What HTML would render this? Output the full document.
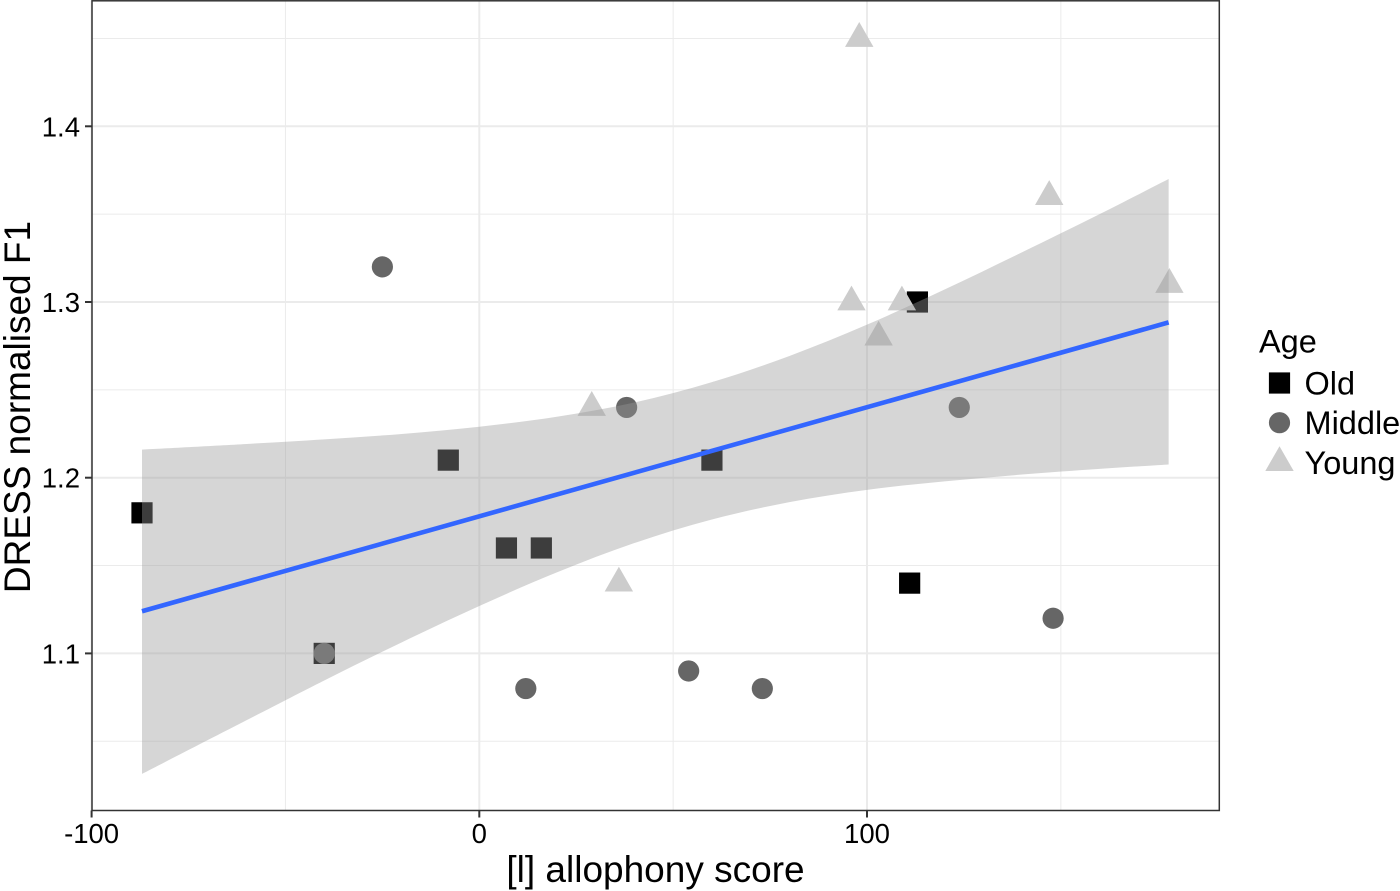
<!DOCTYPE html>
<html lang="en">
<head>
<meta charset="utf-8">
<title>DRESS normalised F1 by [l] allophony score</title>
<style>
html,body{margin:0;padding:0;background:#fff;width:1400px;height:891px;overflow:hidden}
svg{display:block;font-family:"Liberation Sans",Arial,sans-serif}
</style>
</head>
<body>
<svg id="chart" xmlns="http://www.w3.org/2000/svg" width="1400" height="891" viewBox="0 0 1400 891">
  <text x="655.5" y="882" font-size="37" text-anchor="middle" fill="#000">[l] allophony score</text>
  <text transform="translate(30,407) rotate(-90)" font-size="37" text-anchor="middle" fill="#000">DRESS normalised F1</text>
  <text x="1259" y="352.5" font-size="32.5" fill="#000">Age</text>
</svg>
<script>
const xMajorTicks = [-100, 0, 100];
const xMinorTicks = [-50, 50, 150];
const yMajorTicks = [1.1, 1.2, 1.3, 1.4];
const yMinorTicks = [1.05, 1.15, 1.25, 1.35, 1.45];
const xTickLabels = ['-100', '0', '100'];
const yTickLabels = ['1.1', '1.2', '1.3', '1.4'];

const oldX = [-87, -40, -8, 7, 16, 60, 111, 113];
const oldY = [1.18, 1.1, 1.21, 1.16, 1.16, 1.21, 1.14, 1.3];
const middleX = [-25, -40, 12, 38, 54, 73, 123.8, 148];
const middleY = [1.32, 1.1, 1.08, 1.24, 1.09, 1.08, 1.24, 1.12];
const youngX = [29, 36, 96, 98, 103, 109, 147, 178];
const youngY = [1.24, 1.14, 1.3, 1.45, 1.28, 1.3, 1.36, 1.31];

const fitX = [-87, 177.8];
const fitY = [1.124, 1.2884];
const ribbonX = [-87, -60, -40, -20, 0, 20, 40, 60, 80, 100, 120, 140, 160, 177.8];
const ribbonUpperY = [1.216, 1.2192, 1.2218, 1.2249, 1.229, 1.2347, 1.2428, 1.2544, 1.2693, 1.2871, 1.3071, 1.3283, 1.35, 1.37];
const ribbonLowerY = [1.0314, 1.062, 1.0846, 1.1063, 1.127, 1.1461, 1.1628, 1.1762, 1.1861, 1.1931, 1.1979, 1.2018, 1.205, 1.2075];

const legendLabels = ['Old', 'Middle', 'Young'];

const NS = 'http://www.w3.org/2000/svg';
const svg = document.getElementById('chart');
const PANEL = { left: 92, right: 1219.3, top: 0.8, bottom: 810.5 };
const xScale = function (v) { return 479.3 + v * 3.877; };
const yScale = function (v) { return 477.7 - (v - 1.2) * 1757; };

function make(tag, parent, attrs, text) {
  const el = document.createElementNS(NS, tag);
  Object.keys(attrs).forEach(function (k) { el.setAttribute(k, attrs[k]); });
  if (text !== undefined) el.textContent = text;
  parent.appendChild(el);
  return el;
}
function group(parent) {
  return make('g', parent, {});
}

const gridGroup = group(svg);



yMinorTicks.forEach(function (v) {
  const el = make('line', gridGroup, { x1: PANEL.left, x2: PANEL.right, y1: yScale(v), y2: yScale(v), stroke: '#ebebeb', 'stroke-width': 1 });
  
  
});
xMinorTicks.forEach(function (v) {
  const el = make('line', gridGroup, { x1: xScale(v), x2: xScale(v), y1: PANEL.top, y2: PANEL.bottom, stroke: '#ebebeb', 'stroke-width': 1 });
  
  
});
yMajorTicks.forEach(function (v) {
  const el = make('line', gridGroup, { x1: PANEL.left, x2: PANEL.right, y1: yScale(v), y2: yScale(v), stroke: '#ebebeb', 'stroke-width': 2 });
  
  
});
xMajorTicks.forEach(function (v) {
  const el = make('line', gridGroup, { x1: xScale(v), x2: xScale(v), y1: PANEL.top, y2: PANEL.bottom, stroke: '#ebebeb', 'stroke-width': 2 });
  
  
});

function drawSquare(parent, cx, cy) {
  return make('rect', parent, { x: cx - 10.6, y: cy - 10.6, width: 21.2, height: 21.2, fill: '#000' });
}
function drawCircle(parent, cx, cy) {
  return make('circle', parent, { cx: cx, cy: cy, r: 10.6, fill: '#666' });
}
function drawTriangle(parent, cx, cy) {
  const pts = [[cx, cy - 16.4], [cx + 14.2, cy + 8.4], [cx - 14.2, cy + 8.4]];
  return make('polygon', parent, { points: pts.map(function (p) { return p.join(','); }).join(' '), fill: '#ccc' });
}

const pointsGroup = group(svg);



oldX.forEach(function (v, i) {
  const el = drawSquare(pointsGroup, xScale(v), yScale(oldY[i]));
  
  
});
middleX.forEach(function (v, i) {
  const el = drawCircle(pointsGroup, xScale(v), yScale(middleY[i]));
  
  
});
youngX.forEach(function (v, i) {
  const el = drawTriangle(pointsGroup, xScale(v), yScale(youngY[i]));
  
  
});

/* Catmull-Rom smoothing through the readings, so the band edge curves */
function smoothPath(xs, ys, start) {
  const p = xs.map(function (x, i) { return [xScale(x), yScale(ys[i])]; });
  let d = (start ? 'M' : 'L') + p[0][0] + ' ' + p[0][1];
  for (let i = 0; i < p.length - 1; i++) {
    const a = p[Math.max(i - 1, 0)], b = p[i], c = p[i + 1], e = p[Math.min(i + 2, p.length - 1)];
    d += 'C' + (b[0] + (c[0] - a[0]) / 6) + ' ' + (b[1] + (c[1] - a[1]) / 6) + ' ' +
      (c[0] - (e[0] - b[0]) / 6) + ' ' + (c[1] - (e[1] - b[1]) / 6) + ' ' + c[0] + ' ' + c[1];
  }
  return d;
}
const ribbonPath = smoothPath(ribbonX, ribbonUpperY, true) +
  smoothPath(ribbonX.slice().reverse(), ribbonLowerY.slice().reverse(), false) + 'Z';
const ribbon = make('path', svg, { d: ribbonPath, fill: '#999999', 'fill-opacity': 0.4 });



const fitLine = make('line', svg, { x1: xScale(fitX[0]), y1: yScale(fitY[0]), x2: xScale(fitX[1]), y2: yScale(fitY[1]), stroke: '#3366ff', 'stroke-width': 4.6 });



const panelBorder = make('rect', svg, { x: PANEL.left, y: PANEL.top, width: PANEL.right - PANEL.left, height: PANEL.bottom - PANEL.top, fill: 'none', stroke: '#333333', 'stroke-width': 1.5 });



xMajorTicks.forEach(function (v, i) {
  const tick = make('line', svg, { x1: xScale(v), x2: xScale(v), y1: PANEL.bottom, y2: PANEL.bottom + 7, stroke: '#333333', 'stroke-width': 2 });
  
  
  const label = make('text', svg, { x: xScale(v), y: 843, 'font-size': 27.5, 'text-anchor': 'middle', fill: '#000' }, xTickLabels[i]);
  
  
});
yMajorTicks.forEach(function (v, i) {
  const tick = make('line', svg, { x1: PANEL.left - 7, x2: PANEL.left, y1: yScale(v), y2: yScale(v), stroke: '#333333', 'stroke-width': 2 });
  
  
  const label = make('text', svg, { x: 80, y: yScale(v) + 10, 'font-size': 27.5, 'text-anchor': 'end', fill: '#000' }, yTickLabels[i]);
  
  
});

const legendGroup = group(svg);



const legendSquare = drawSquare(legendGroup, 1279.5, 383);


const legendCircle = drawCircle(legendGroup, 1279.5, 422.7);


const legendTriangle = drawTriangle(legendGroup, 1279.5, 462.6);



legendLabels.forEach(function (t, i) {
  const el = make('text', legendGroup, { x: 1304.5, y: 394.5 + i * 39.7, 'font-size': 32.5, fill: '#000' }, t);
  
  
});
</script>
</body>
</html>
